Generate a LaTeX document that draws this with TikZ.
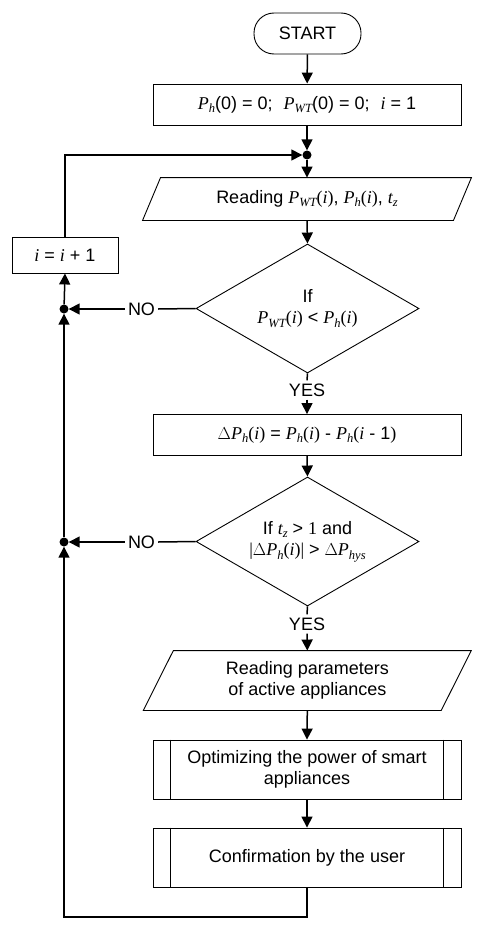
\documentclass[tikz,border=0pt]{standalone}
\usepackage{fontspec}
\setmainfont{Liberation Sans}
\newfontfamily\tnr{Liberation Serif}
\usetikzlibrary{shapes.geometric,arrows.meta}
\newcommand\vv[1]{{\tnr\itshape #1}}
\newcommand\sbs[1]{\raisebox{-0.35ex}{\fontsize{12.5}{12.5}\selectfont\tnr\itshape #1}}
\newcommand\parg[1]{{\tnr(\textit{#1})}}
\begin{document}
\begin{tikzpicture}[x=1pt,y=-1pt,
  font=\fontsize{18}{21.5}\selectfont,
  box/.style={draw, line width=0.9pt, inner sep=0pt, minimum width=308pt, minimum height=41pt, align=center},
  conn/.style={line width=1.5pt, -{Triangle[length=11pt,width=11pt]}},
  plain/.style={line width=1.5pt},
  dot/.style={circle, fill, inner sep=0pt, minimum size=9pt},
  dec/.style={diamond, draw, line width=0.9pt, inner sep=0pt, aspect=1.73, minimum width=223pt, minimum height=129pt, align=center},
  lab/.style={inner sep=3pt}]
\useasboundingbox (0,0) rectangle (496,934);

% nodes
\node[draw, line width=0.9pt, rounded corners=20pt, minimum width=107pt, minimum height=41pt, inner sep=0pt] (start) at (307.5,33.5) {START};
\node[box] (init) at (307,104.5) {\vv{P}\sbs{h}(0) = 0;\hspace{11pt}\vv{P}\sbs{WT}(0) = 0;\hspace{11pt}\vv{i} = 1};
\node[dot] (jtop) at (307,155) {};
\node[box, draw=none, minimum width=310pt, minimum height=42pt] (read1) at (307,199) {Reading \vv{P}\sbs{WT}\parg{i}, \vv{P}\sbs{h}\parg{i}, \vv{t}\sbs{z}};
\draw[line width=0.9pt] ([xshift=9pt]read1.north west) -- ([xshift=9pt]read1.north east) -- ([xshift=-9pt]read1.south east) -- ([xshift=-9pt]read1.south west) -- cycle;
\node[dec] (d1) at (307.5,308.5) {If\\\vv{P}\sbs{WT}\parg{i} < \vv{P}\sbs{h}\parg{i}};
\node[box, minimum width=106pt, minimum height=36pt] (inc) at (65,255) {\vv{i} = \vv{i} + 1};
\node[dot] (dl1) at (64,309) {};
\node[lab] (no1) at (141.5,309) {NO};
\node[lab] (yes1) at (307,390) {YES};
\node[box] (delta) at (307,435) {{\tnr$\Delta$}\vv{P}\sbs{h}\parg{i} = \vv{P}\sbs{h}\parg{i} - \vv{P}\sbs{h}{\tnr(\textit{i}} - 1{\tnr)}};
\node[dec] (d2) at (307.5,541.5) {If \vv{t}\sbs{z} > {\tnr 1} and\\{\tnr|$\Delta$}\vv{P}\sbs{h}\parg{i}{\tnr|} > {\tnr$\Delta$}\vv{P}\sbs{hys}};
\node[dot] (dl2) at (64,542) {};
\node[lab] (no2) at (141.5,542) {NO};
\node[lab] (yes2) at (307,624) {YES};
\node[box, draw=none, minimum width=297pt, minimum height=59pt] (read2) at (307.3,680.5) {Reading parameters\\of active appliances};
\draw[line width=0.9pt] ([xshift=15pt]read2.north west) -- ([xshift=15pt]read2.north east) -- ([xshift=-15pt]read2.south east) -- ([xshift=-15pt]read2.south west) -- cycle;
\node[box, minimum height=59pt] (opt) at (307,769.5) {Optimizing the power of smart\\appliances};
\draw[line width=0.9pt] ([xshift=18pt]opt.north west) -- ([xshift=18pt]opt.south west);
\draw[line width=0.9pt] ([xshift=-18pt]opt.north east) -- ([xshift=-18pt]opt.south east);
\node[box, minimum height=59pt] (conf) at (307,857.5) {Confirmation by the user};
\draw[line width=0.9pt] ([xshift=18pt]conf.north west) -- ([xshift=18pt]conf.south west);
\draw[line width=0.9pt] ([xshift=-18pt]conf.north east) -- ([xshift=-18pt]conf.south east);
\coordinate (bot) at (307,917);
\coordinate (botl) at (64,917);

% connectors
\draw[conn] (start) -- (init);
\draw[conn] (init) -- (jtop);
\draw[conn] (jtop) -- (read1.north);
\draw[conn] (read1.south) -- (d1.north);
\draw[plain] (d1.west) -- (no1.east);
\draw[conn] (no1.west) -- (dl1);
\draw[plain] (d1.south) -- (yes1.north);
\draw[conn] (yes1.south) -- (delta.north);
\draw[conn] (delta.south) -- (d2.north);
\draw[plain] (d2.west) -- (no2.east);
\draw[conn] (no2.west) -- (dl2);
\draw[plain] (d2.south) -- (yes2.north);
\draw[conn] (yes2.south) -- (read2.north);
\draw[conn] (read2.south) -- (opt.north);
\draw[conn] (opt.south) -- (conf.north);
\draw[conn] (conf.south) -- (bot) -- (botl) -- (dl2);
\draw[conn] (dl2) -- (dl1);
\draw[conn] (dl1) -- (inc.south);
\draw[conn] (inc.north) |- (jtop);
\end{tikzpicture}
\end{document}
